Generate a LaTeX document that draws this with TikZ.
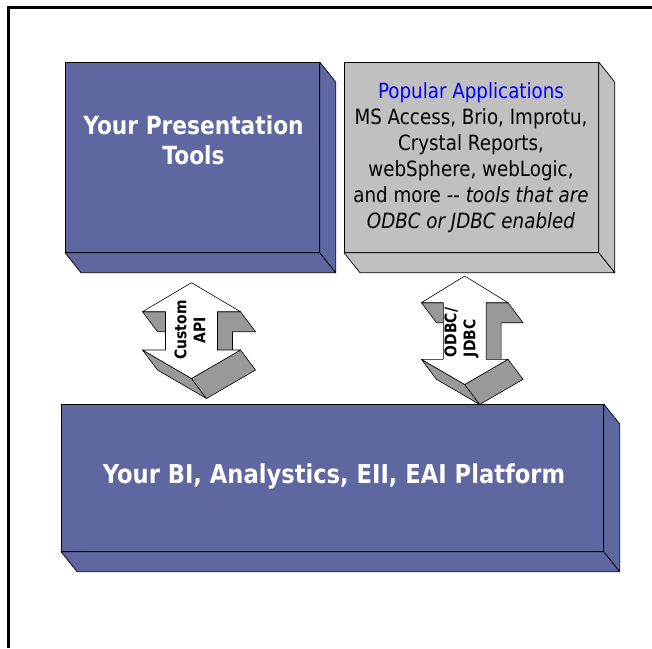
\documentclass[tikz,border=0pt]{standalone}
\usepackage{fontspec}
\setmainfont{DejaVu Sans}[FakeStretch=0.87]
\definecolor{boxblue}{RGB}{95,103,160}
\definecolor{boxgrey}{RGB}{192,192,192}
\definecolor{arrowgrey}{RGB}{153,153,153}
\tikzset{
  face/.style={draw=black, line width=0.7pt, line join=round},
  bluebox/.style={face, fill=boxblue},
  greybox/.style={face, fill=boxgrey},
  frontface/.style={rectangle, inner sep=0pt, anchor=north west},
  whitetxt/.style={text=white, font=\bfseries\fontsize{25}{30}\selectfont, align=center, inner sep=0pt},
  apptxt/.style={text=black, font=\fontsize{21}{26}\selectfont, align=center, inner sep=0pt},
  lbltxt/.style={text=black, font=\bfseries\fontsize{16}{19}\selectfont, inner sep=0pt, rotate=90},
  arrowside/.style={draw=black, line width=0.6pt, fill=arrowgrey, line join=round},
  arrowfront/.style={draw=black, line width=0.6pt, fill=white, line join=round},
}
% 3D sides of a slab: #1 node name, #2 style
\newcommand\slabsides[2]{%
  \path (#1.north east) ++(16,20) coordinate (#1-tr);
  \path (#1.south east) ++(16,20) coordinate (#1-br);
  \path (#1.south west) ++(16,20) coordinate (#1-bl);
  \draw[#2] (#1.north east) -- (#1-tr) -- (#1-br) -- (#1.south east) -- cycle;
  \draw[#2] (#1.south west) -- (#1.south east) -- (#1-br) -- (#1-bl) -- cycle;
}
% 3D double arrow: #1 name, #2 cx, #3 top tip y, #4 upper head base y,
% #5 lower head base y, #6 bottom tip y, #7 head half width, #8 shaft half width
\newcommand\dblarrow[8]{%
  \coordinate (#1-T)  at (#2,#3);
  \coordinate (#1-L1) at ({#2-#7},#4);
  \coordinate (#1-S1) at ({#2-#8},#4);
  \coordinate (#1-S2) at ({#2-#8},#5);
  \coordinate (#1-L2) at ({#2-#7},#5);
  \coordinate (#1-B)  at (#2,#6);
  \coordinate (#1-R2) at ({#2+#7},#5);
  \coordinate (#1-S3) at ({#2+#8},#5);
  \coordinate (#1-S4) at ({#2+#8},#4);
  \coordinate (#1-R1) at ({#2+#7},#4);
  \draw[arrowside] (#1-S4) -- (#1-R1) -- ([shift={(15,20)}]#1-R1) -- ([shift={(15,20)}]#1-S4)
     -- ([shift={(15,20)}]#1-S3) -- (#1-S3) -- cycle;
  \draw[arrowside] (#1-L1) -- (#1-S1) -- ([shift={(15,20)}]#1-S1) -- ([shift={(15,20)}]#1-L1) -- cycle;
  \draw[arrowside] (#1-L2) -- (#1-B) -- ([shift={(15,20)}]#1-B) -- ([shift={(15,20)}]#1-L2) -- cycle;
  \draw[arrowside] (#1-B) -- (#1-R2) -- ([shift={(15,20)}]#1-R2) -- ([shift={(15,20)}]#1-B) -- cycle;
  \draw[arrowfront] (#1-T) -- (#1-L1) -- (#1-S1) -- (#1-S2) -- (#1-L2) -- (#1-B)
     -- (#1-R2) -- (#1-S3) -- (#1-S4) -- (#1-R1) -- cycle;
}
\begin{document}
\begin{tikzpicture}[x=1pt,y=-1pt]
\useasboundingbox (0,0) rectangle (652,648);
\fill[white] (0,0) rectangle (652,648);
% frame (continues beyond the right and bottom edges)
\draw[line width=3pt] (8.5,648) -- (8.5,7.5) -- (652,7.5);

% top-left box
\node[bluebox, frontface, minimum width=254pt, minimum height=190pt] (pres) at (65,62) {};
\slabsides{pres}{bluebox}
\node[whitetxt] (prestxt) at (193.5,140) {Your Presentation\\Tools};

% top-right box
\node[greybox, frontface, minimum width=254pt, minimum height=190pt] (apps) at (344,62) {};
\slabsides{apps}{greybox}
\node[apptxt] (appstxt) at (471,158) {\textcolor{blue}{Popular Applications}\\
  MS Access, Brio, Improtu,\\ Crystal Reports,\\ webSphere, webLogic,\\
  and more {-}{-} \textit{tools that are}\\ \textit{ODBC or JDBC enabled}};

% bottom box
\node[bluebox, frontface, minimum width=542pt, minimum height=147pt] (plat) at (61,404) {};
\slabsides{plat}{bluebox}
\node[whitetxt, font=\bfseries\fontsize{26}{30}\selectfont] (plattxt) at (334,476) {Your BI, Analystics, EII, EAI Platform};

% arrows
\dblarrow{api}{191.5}{282.7}{311.7}{350}{378.5}{49}{26}
\node[lbltxt, align=center] (apilbl) at (190,330) {Custom\\API};
\dblarrow{odbc}{464.7}{276}{302.7}{359.3}{384.5}{43.3}{21.4}
\node[lbltxt, align=left] (odbclbl) at (461.5,332.5) {ODBC/\\JDBC};
\end{tikzpicture}
\end{document}
